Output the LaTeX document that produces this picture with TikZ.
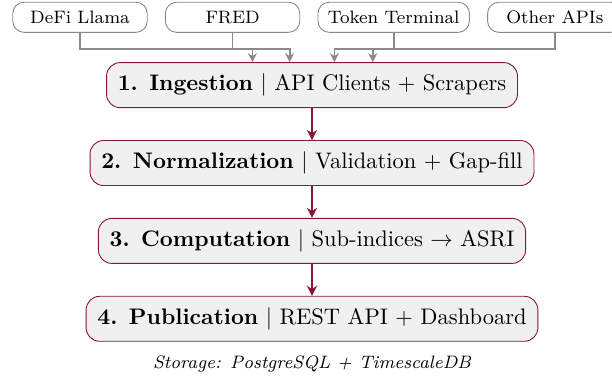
\documentclass[tikz,border=0pt]{standalone}
\usepackage{fontspec}
\usepackage{xcolor}
\usepackage{tikz}
\usetikzlibrary{positioning, arrows.meta}
\definecolor{pipeline}{HTML}{8B1538}
\definecolor{stagebg}{HTML}{F0F0F0}
\definecolor{srcgray}{HTML}{8A8A8A}
\tikzset{
  source/.style={
    draw=srcgray,
    thin,
    fill=white,
    rounded corners=5pt,
    minimum width=2.1cm,
    minimum height=0.47cm,
    inner xsep=4.4pt,
    font=\footnotesize
  },
  stage/.style={
    draw=pipeline,
    thin,
    fill=stagebg,
    rounded corners=6pt,
    inner xsep=5pt,
    inner ysep=5pt
  },
  feed/.style={-{Stealth[length=4pt, width=4pt]}, thick, srcgray},
  flow/.style={-{Stealth[length=4.5pt, width=4.5pt]}, thick, pipeline}
}

\begin{document}
\begin{tikzpicture}
  \useasboundingbox (0, 0) rectangle (9.5625, -5.9375);

  % ====== DATA SOURCES ======
  \node[source] (defi) at (1.25, -0.27) {DeFi Llama};
  \node[source, right=0.27cm of defi] (fred) {FRED};
  \node[source, right=0.27cm of fred] (token) {Token Terminal};
  \node[source, right=0.27cm of token] (other) {Other APIs};

  % ====== PIPELINE STAGES ======
  \node[stage] (ingest) at (4.875, -1.33) {\textbf{1. Ingestion} | API Clients + Scrapers};
  \node[stage, below=0.5cm of ingest] (norm) {\textbf{2. Normalization} | Validation + Gap-fill};
  \node[stage, below=0.5cm of norm] (comp) {\textbf{3. Computation} | Sub-indices $\rightarrow$ ASRI};
  \node[stage, below=0.5cm of comp] (publish) {\textbf{4. Publication} | REST API + Dashboard};

  % storage note
  \node[below=0.1cm of publish, font=\footnotesize\itshape] (storage) {Storage: PostgreSQL + TimescaleDB};

  % ====== SOURCES INTO INGESTION ======
  \draw[feed] (defi.south) -- ++(0, -0.25) -| ([xshift=-0.93cm]ingest.north);
  \draw[feed] (fred.south) -- ++(0, -0.25) -| ([xshift=-0.35cm]ingest.north);
  \draw[feed] (token.south) -- ++(0, -0.25) -| ([xshift=0.35cm]ingest.north);
  \draw[feed] (other.south) -- ++(0, -0.25) -| ([xshift=0.95cm]ingest.north);

  % ====== STAGE TO STAGE ======
  \draw[flow] (ingest) -- (norm);
  \draw[flow] (norm) -- (comp);
  \draw[flow] (comp) -- (publish);

\end{tikzpicture}
\end{document}
